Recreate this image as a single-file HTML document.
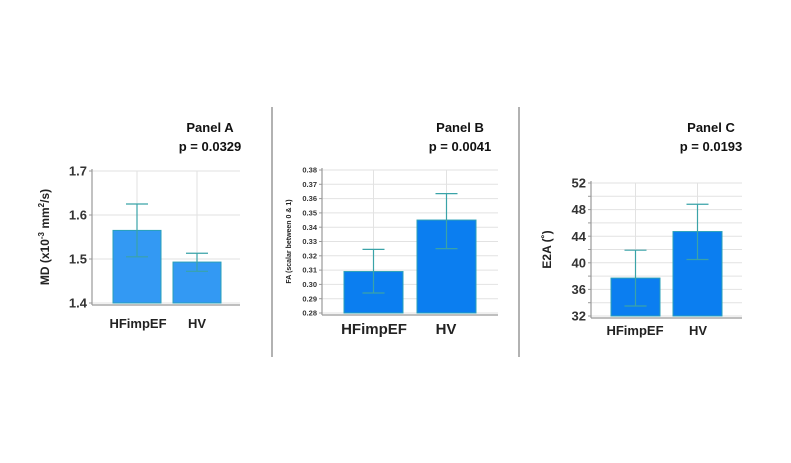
<!DOCTYPE html>
<html><head><meta charset="utf-8"><style>
html,body{margin:0;padding:0;background:#fff;}
svg{display:block;font-family:"Liberation Sans",Arial,sans-serif;}
</style></head><body>
<svg id="chart" width="791" height="463" viewBox="0 0 791 463">
<line x1="272" y1="107" x2="272" y2="357" stroke="#888" stroke-width="1.3"/>
<line x1="519" y1="107" x2="519" y2="357" stroke="#888" stroke-width="1.3"/>
</svg>
<script>
const categories = ["HFimpEF", "HV"];
const meansA = [1.565, 1.493];
const errLoA = [1.505, 1.472];
const errHiA = [1.625, 1.513];
const ticksA = [1.4, 1.5, 1.6, 1.7];
const meansB = [0.309, 0.345];
const errLoB = [0.294, 0.325];
const errHiB = [0.3245, 0.3635];
const ticksB = [0.28,0.29,0.30,0.31,0.32,0.33,0.34,0.35,0.36,0.37,0.38];
const meansC = [37.7, 44.7];
const errLoC = [33.5, 40.5];
const errHiC = [41.9, 48.8];
const ticksC = [32, 36, 40, 44, 48, 52];
const gridC = [32,34,36,38,40,42,44,46,48,50,52];

const NS = "http://www.w3.org/2000/svg";
const svg = document.getElementById("chart");
function mk(tag, attrs, parent, text){
  const e = document.createElementNS(NS, tag);
  for (const k in attrs) e.setAttribute(k, attrs[k]);
  if (text !== undefined) e.textContent = text;
  (parent||svg).appendChild(e);
  return e;
}

function panel(cfg){
  const g = mk("g", {});
  
  
  const y = v => cfg.y0 + (v - cfg.vmin) / (cfg.vmax - cfg.vmin) * (cfg.y1 - cfg.y0);
  const xc = i => cfg.barX[i] + cfg.barW/2;
  cfg.grid.forEach(v => {
    const l = mk("line", {x1: cfg.ax, x2: cfg.right, y1: y(v), y2: y(v), stroke: "#e2e2e2", "stroke-width": 1}, g);
    
    
  });
  categories.forEach((c, i) => {
    const l = mk("line", {x1: xc(i), x2: xc(i), y1: cfg.y1, y2: cfg.y0, stroke: "#e2e2e2", "stroke-width": 1}, g);
    
    
  });
  const ya = mk("line", {x1: cfg.ax, x2: cfg.ax, y1: cfg.y1 - 2, y2: cfg.y0 + 2, stroke: "#999", "stroke-width": 1.2}, g);
  
  
  const xa = mk("line", {x1: cfg.ax, x2: cfg.right, y1: cfg.y0 + 2, y2: cfg.y0 + 2, stroke: "#999", "stroke-width": 1.2}, g);
  
  
  cfg.grid.forEach(v => {
    const t = mk("line", {x1: cfg.ax - 3, x2: cfg.ax, y1: y(v), y2: y(v), stroke: "#999", "stroke-width": 1}, g);
    
    
  });
  cfg.ticks.forEach(v => {
    const t = mk("text", {x: cfg.ax - 5, y: y(v) + cfg.tickFs*0.35, "text-anchor": "end", "font-size": cfg.tickFs, "font-weight": "bold", fill: "#333"}, g, v.toFixed(cfg.dec));
    
    
  });
  categories.forEach((c, i) => {
    const top = y(cfg.means[i]);
    const b = mk("rect", {x: cfg.barX[i], y: top, width: cfg.barW, height: y(cfg.vmin) - top, fill: cfg.color, stroke: "#2aa0b8", "stroke-width": 1}, g);
    
    
    const e = mk("line", {x1: xc(i), x2: xc(i), y1: y(cfg.lo[i]), y2: y(cfg.hi[i]), stroke: "#3aa3a8", "stroke-width": 1.2}, g);
    
    
    [cfg.lo[i], cfg.hi[i]].forEach(v => {
      const cap = mk("line", {x1: xc(i) - 11, x2: xc(i) + 11, y1: y(v), y2: y(v), stroke: "#3aa3a8", "stroke-width": 1.2}, g);
      
      
    });
    const lab = mk("text", {x: cfg.catX[i], y: cfg.catY, "text-anchor": "middle", "font-size": cfg.catFs, "font-weight": "bold", fill: "#222"}, g, c);
    
    
  });
  const yt = mk("text", {x: 0, y: 0, transform: `translate(${cfg.titleX},${(cfg.y0+cfg.y1)/2}) rotate(-90)`, "text-anchor": "middle", "font-size": cfg.titleFs, "font-weight": "bold", fill: "#222"}, g);
  yt.innerHTML = cfg.yTitle;
  
  
  const pt = mk("text", {x: cfg.labX, y: 132, "text-anchor": "middle", "font-size": 13, "font-weight": "bold", fill: "#111"}, g, cfg.panel);
  
  
  const pv = mk("text", {x: cfg.labX, y: 151, "text-anchor": "middle", "font-size": 13, "font-weight": "bold", fill: "#111"}, g, cfg.p);
  
  
}

panel({id:"panel-a", vmin:1.4, vmax:1.7, y0:303, y1:171, ax:92, right:240, barX:[113,173], barW:48,
  means:meansA, lo:errLoA, hi:errHiA, ticks:ticksA, grid:ticksA, dec:1, tickFs:13, color:"#3399f3",
  catX:[138,197], catY:328, catFs:13, titleX:49, titleFs:12,
  yTitle:'MD (x10<tspan dy="-5" font-size="8">-3</tspan><tspan dy="5"> mm</tspan><tspan dy="-5" font-size="8">2</tspan><tspan dy="5">/s)</tspan>',
  panel:"Panel A", p:"p = 0.0329", labX:210});
panel({id:"panel-b", vmin:0.28, vmax:0.38, y0:313, y1:170, ax:322, right:498, barX:[344,417], barW:59,
  means:meansB, lo:errLoB, hi:errHiB, ticks:ticksB, grid:ticksB, dec:2, tickFs:7.5, color:"#0b7ef0",
  catX:[374,446], catY:334, catFs:15, titleX:291, titleFs:7,
  yTitle:'FA (scalar between 0 &amp; 1)', panel:"Panel B", p:"p = 0.0041", labX:460});
panel({id:"panel-c", vmin:32, vmax:52, y0:316, y1:183, ax:591, right:742, barX:[611,673], barW:49,
  means:meansC, lo:errLoC, hi:errHiC, ticks:ticksC, grid:gridC, dec:0, tickFs:13, color:"#0b7ef0",
  catX:[635,698], catY:335, catFs:13, titleX:551, titleFs:12,
  yTitle:'E2A (˚)', panel:"Panel C", p:"p = 0.0193", labX:711});
</script>
</body></html>
